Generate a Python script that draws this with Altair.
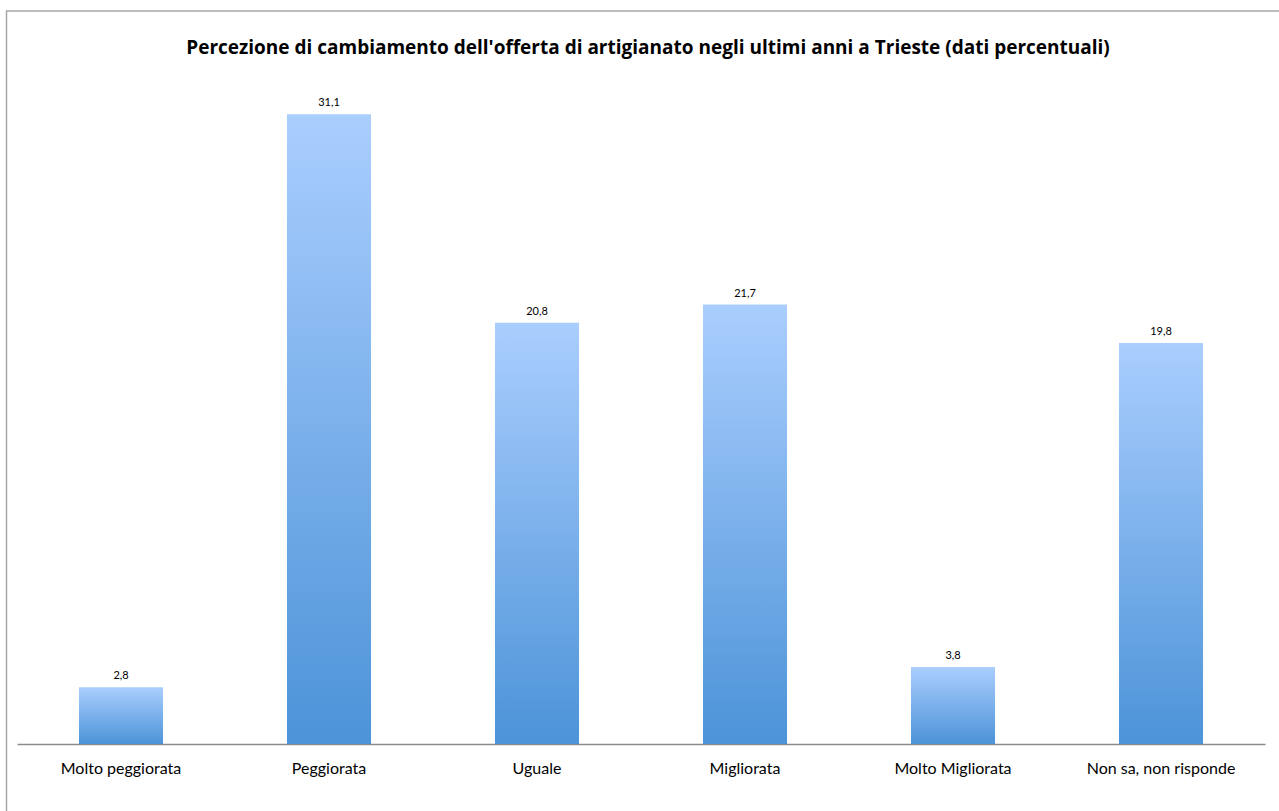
import altair as alt
import pandas as pd

categories = ["Molto peggiorata", "Peggiorata", "Uguale", "Migliorata", "Molto Migliorata", "Non sa, non risponde"]
values = [2.8, 31.1, 20.8, 21.7, 3.8, 19.8]
title_text = "Percezione di cambiamento dell'offerta di artigianato negli ultimi anni a Trieste (dati percentuali)"

df = pd.DataFrame({
    "cat": categories,
    "val": values,
    "lab": [f"{v:.1f}".replace(".", ",") for v in values],
})

FONT = "Lato"

x_enc = alt.X("cat:N", sort=categories,
              scale=alt.Scale(paddingInner=0.596, paddingOuter=0.298),
              axis=alt.Axis(title=None, labelAngle=0, ticks=False, domainColor="#8c8c8c",
                            domainWidth=1.5, labelFontSize=16, labelFont=FONT, labelColor="#000000",
                            labelPadding=16))
y_enc = alt.Y("val:Q", scale=alt.Scale(domain=[0, 32], nice=False, zero=True), axis=None)

bars = alt.Chart(df).mark_bar(
    color=alt.Gradient(gradient="linear",
                       stops=[alt.GradientStop(color="#AACEFE", offset=0),
                              alt.GradientStop(color="#4C93D8", offset=1)],
                       x1=0, x2=0, y1=0, y2=1)
).encode(x=x_enc, y=y_enc)

labels = alt.Chart(df).mark_text(dy=-11, fontSize=11, font=FONT, color="#000000").encode(
    x=alt.X("cat:N", sort=categories), y="val:Q", text="lab:N")

border = alt.Chart(df.head(1)).mark_rect(fill=None, stroke="#a6a6a6", strokeWidth=1.5, clip=False).encode(
    x=alt.value(-10.5), x2=alt.value(1300), y=alt.value(-85), y2=alt.value(800))

chart = alt.layer(border, bars, labels).properties(
    width=1248, height=648,
    title=alt.TitleParams(title_text, fontSize=19, font="Open Sans", fontWeight="bold", color="#000000",
                          anchor="middle", offset=0, dy=48, dx=7),
    autosize=alt.AutoSizeParams(type="none"),
    padding={"left": 17, "top": 96, "right": 14, "bottom": 67},
).configure(background="white", view=alt.ViewConfig(stroke=None))

chart.save("out.html", embed_options={"renderer": "svg", "actions": False})
